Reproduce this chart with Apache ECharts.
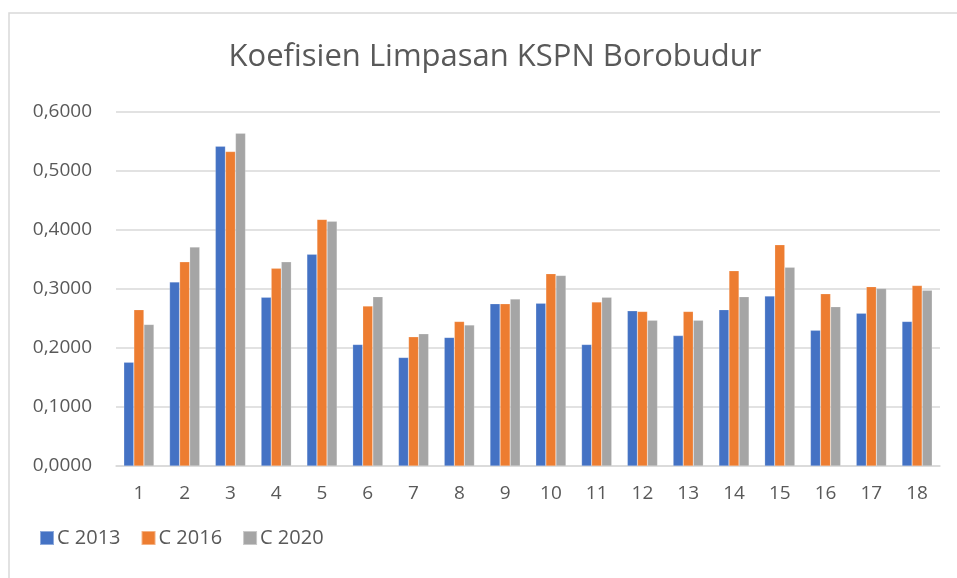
<!DOCTYPE html>
<html>
<head>
<meta charset="utf-8">
<script src="https://cdn.jsdelivr.net/npm/echarts@6/dist/echarts.min.js"></script>
<style>
html, body { margin: 0; padding: 0; background: #fff; }
#main { width: 957px; height: 578px; }
</style>
</head>
<body>
<div id="main"></div>
<script>
var categories = ['1','2','3','4','5','6','7','8','9','10','11','12','13','14','15','16','17','18'];
var c2013 = [0.176,0.312,0.542,0.286,0.359,0.206,0.184,0.218,0.275,0.276,0.206,0.263,0.221,0.265,0.288,0.230,0.259,0.245];
var c2016 = [0.265,0.346,0.533,0.335,0.418,0.271,0.219,0.245,0.275,0.326,0.278,0.262,0.262,0.331,0.375,0.292,0.304,0.306];
var c2020 = [0.240,0.371,0.564,0.346,0.415,0.287,0.224,0.239,0.283,0.323,0.286,0.247,0.247,0.287,0.337,0.270,0.301,0.298];
var seriesNames = ['C 2013','C 2016','C 2020'];
var colors = ['#4472C4','#ED7D31','#A5A5A5'];

var font = 'Open Sans';
var myChart = echarts.init(document.getElementById('main'));

function bar(name, data, color) {
    return {
        name: name,
        type: 'bar',
        data: data,
        barGap: '0%',
        barCategoryGap: '34%',
        itemStyle: { color: color, borderColor: 'rgba(255,255,255,0.4)', borderWidth: 0.5 }
    };
}

var option = {
    animation: false,
    backgroundColor: '#fff',
    color: colors,
    graphic: [{
        type: 'rect',
        shape: { x: 9, y: 13, width: 990, height: 600 },
        style: { fill: 'none', stroke: '#D9D9D9', lineWidth: 1.5 },
        silent: true
    }],
    title: {
        text: 'Koefisien Limpasan KSPN Borobudur',
        left: 490,
        top: 37,
        textAlign: 'center',
        textStyle: { fontFamily: font, fontWeight: 'normal', fontSize: 31, color: '#595959' }
    },
    legend: {
        left: 34,
        top: 523,
        itemWidth: 14,
        itemHeight: 14,
        itemGap: 20,
        icon: 'rect',
        textStyle: { fontFamily: font, fontSize: 20, color: '#595959', padding: [0, 0, 0, -2] },
        data: seriesNames
    },
    grid: { left: 116, right: 17, top: 112, bottom: 112, containLabel: false },
    xAxis: {
        type: 'category',
        data: categories,
        axisTick: { show: false },
        axisLine: { lineStyle: { color: '#D9D9D9', width: 1.5 } },
        axisLabel: { fontFamily: font, fontSize: 19, color: '#595959', margin: 18 }
    },
    yAxis: {
        type: 'value',
        min: 0,
        max: 0.6,
        interval: 0.1,
        axisLine: { show: false },
        axisTick: { show: false },
        splitLine: { lineStyle: { color: '#D9D9D9', width: 1.5 } },
        axisLabel: {
            fontFamily: font, fontSize: 19, color: '#595959', margin: 24,
            formatter: function (v) { return v.toFixed(4).replace('.', ','); }
        }
    },
    series: [
        bar(seriesNames[0], c2013, colors[0]),
        bar(seriesNames[1], c2016, colors[1]),
        bar(seriesNames[2], c2020, colors[2])
    ]
};
myChart.setOption(option);
</script>
</body>
</html>
